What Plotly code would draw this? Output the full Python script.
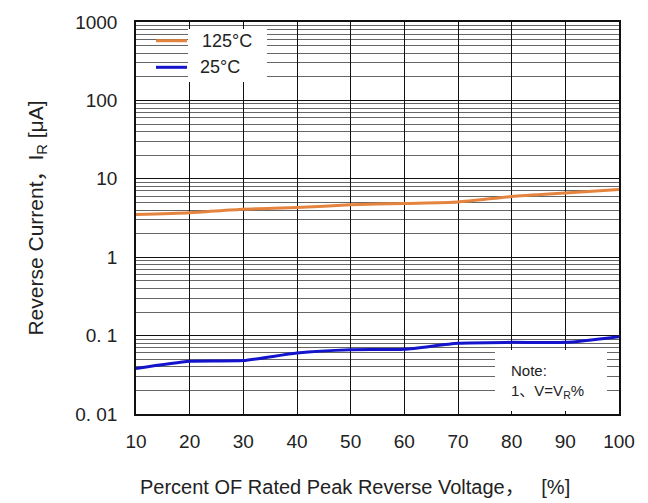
import plotly.graph_objects as go

# Percent of rated peak reverse voltage
voltage_pct = [10, 20, 30, 40, 50, 60, 70, 80, 90, 100]
# Reverse current (uA) at each junction temperature
ir_125c = [3.5, 3.7, 4.1, 4.3, 4.65, 4.85, 5.05, 5.95, 6.6, 7.3]
ir_25c = [0.038, 0.047, 0.048, 0.060, 0.066, 0.067, 0.080, 0.082, 0.082, 0.097]

y_tick_vals = [0.01, 0.1, 1, 10, 100, 1000]
y_tick_text = ["0. 01", "0. 1", "1", "10", "100", "1000"]
x_tick_vals = [10, 20, 30, 40, 50, 60, 70, 80, 90, 100]

FONT = "Liberation Sans, Arial, Noto Sans CJK SC, sans-serif"
ORANGE = "#E5843E"
BLUE = "#1414CC"

fig = go.Figure()
fig.add_trace(go.Scatter(x=voltage_pct, y=ir_125c, mode="lines", name="125°C",
                         line=dict(color=ORANGE, width=3, shape="spline", smoothing=0.6)))
fig.add_trace(go.Scatter(x=voltage_pct, y=ir_25c, mode="lines", name="25°C",
                         line=dict(color=BLUE, width=3, shape="spline", smoothing=0.6)))

W, H = 648, 503
L, R, T, B = 136, 29, 16, 89


def px_x(p):
    return (p - L) / (W - L - R)


def px_y(p):
    return 1 - (p - T) / (H - T - B)


shapes = []
# white backing for the legend text
shapes.append(dict(type="rect", xref="paper", yref="paper", layer="above",
                   x0=px_x(188), x1=px_x(267), y0=px_y(77), y1=px_y(23),
                   fillcolor="white", line=dict(width=0)))
# white backing for the note
shapes.append(dict(type="rect", xref="paper", yref="paper", layer="above",
                   x0=px_x(495), x1=px_x(607), y0=px_y(411), y1=px_y(349),
                   fillcolor="white", line=dict(width=0)))
# legend samples
shapes.append(dict(type="line", xref="paper", yref="paper", layer="above",
                   x0=px_x(156), x1=px_x(187), y0=px_y(35), y1=px_y(35),
                   line=dict(color=ORANGE, width=3)))
shapes.append(dict(type="line", xref="paper", yref="paper", layer="above",
                   x0=px_x(156), x1=px_x(187), y0=px_y(62), y1=px_y(62),
                   line=dict(color=BLUE, width=3)))

annotations = [
    dict(text="125°C", xref="paper", yref="paper", x=px_x(200), y=px_y(35),
         xanchor="left", yanchor="middle", showarrow=False,
         font=dict(family=FONT, size=18, color="#222")),
    dict(text="25°C", xref="paper", yref="paper", x=px_x(198), y=px_y(62),
         xanchor="left", yanchor="middle", showarrow=False,
         font=dict(family=FONT, size=18, color="#222")),
    dict(text="Note:", xref="paper", yref="paper", x=px_x(509), y=px_y(370),
         xanchor="left", yanchor="middle", showarrow=False,
         font=dict(family=FONT, size=15, color="#222")),
    dict(text="1、V=V<sub>R</sub>%", xref="paper", yref="paper", x=px_x(509), y=px_y(391),
         xanchor="left", yanchor="middle", showarrow=False,
         font=dict(family=FONT, size=15, color="#222")),
    # x-axis title
    dict(text="Percent OF Rated Peak Reverse Voltage，   [%]", xref="paper", yref="paper",
         x=px_x(355), y=px_y(488), xanchor="center", yanchor="middle", showarrow=False,
         font=dict(family=FONT, size=20, color="#222")),
]

fig.update_layout(
    width=W, height=H,
    margin=dict(l=L, r=R, t=T, b=B, pad=0),
    paper_bgcolor="white", plot_bgcolor="white",
    showlegend=False,
    font=dict(family=FONT, size=19, color="#222"),
    shapes=shapes,
    annotations=annotations,
)

fig.update_xaxes(
    range=[10, 100], tickvals=x_tick_vals, ticks="",
    showgrid=True, gridcolor="#111", gridwidth=1.3,
    showline=True, linecolor="#111", linewidth=1.5, mirror=True,
    zeroline=False, tickfont=dict(size=19), ticklabelstandoff=9,
)
fig.update_yaxes(
    type="log", range=[-2, 3], tickvals=y_tick_vals, ticktext=y_tick_text,
    ticks="", showgrid=True, gridcolor="#111", gridwidth=1.3,
    minor=dict(dtick="D1", showgrid=True, gridcolor="#666", gridwidth=1.3, ticks=""),
    showline=True, linecolor="#111", linewidth=1.5, mirror=True,
    zeroline=False, tickfont=dict(size=19), ticklabelstandoff=13,
    title=dict(text="Reverse Current，I<sub>R</sub> [μA]", font=dict(size=21), standoff=26),
)

fig.write_html("out.html")
